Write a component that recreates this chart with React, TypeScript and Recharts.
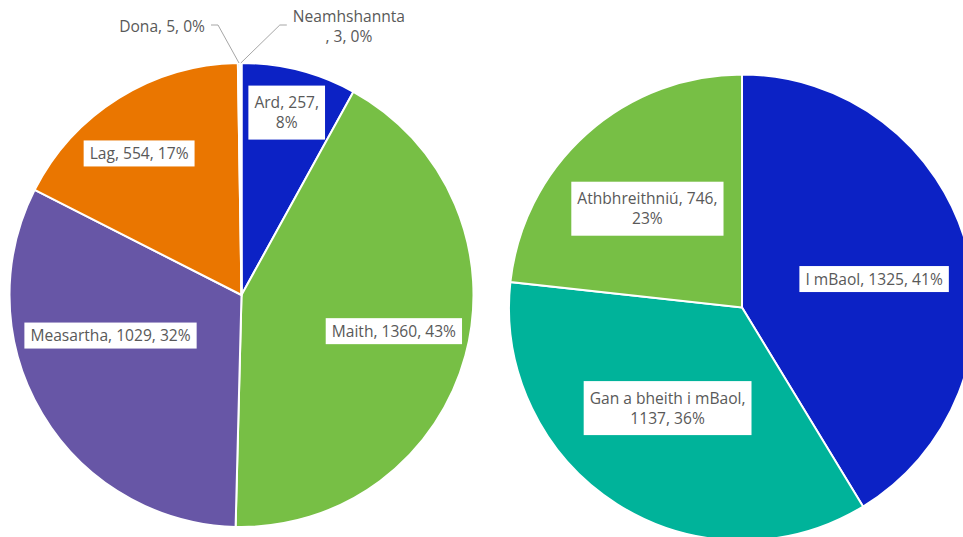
import { PieChart, Pie, Cell } from 'recharts';

const leftNames = ['Ard', 'Maith', 'Measartha', 'Lag', 'Dona', 'Neamhshannta'];
const leftValues = [257, 1360, 1029, 554, 5, 3];
const leftPct = ['8%', '43%', '32%', '17%', '0%', '0%'];

const rightNames = ['I mBaol', 'Gan a bheith i mBaol', 'Athbhreithniú'];
const rightValues = [1325, 1137, 746];
const rightPct = ['41%', '36%', '23%'];

const LEFT_COLORS = ['#0C22C5', '#77BF45', '#6756A6', '#EA7600', '#A5A5A5', '#4472C4'];
const RIGHT_COLORS = ['#0C22C5', '#00B39A', '#77BF45'];

// where each label sits: r = share of radius, da = degrees clockwise from slice middle,
// brk = parts on first line, out = leader elbow offset from slice edge, lead = comma starts line 2
type Place = { r?: number; da?: number; brk?: number; out?: [number, number]; lead?: boolean };
const LEFT_PLACE: Place[] = [
  { r: 0.81, da: -0.5, brk: 2 },
  { r: 0.675, da: -1.8 },
  { r: 0.591, da: 13.6 },
  { r: 0.753, da: -3.9 },
  { out: [-21, -38] },
  { out: [39, -38], brk: 1, lead: true },
];
const RIGHT_PLACE: Place[] = [
  { r: 0.58, da: 3.5 },
  { r: 0.537, da: 4, brk: 1 },
  { r: 0.587, da: -1.9, brk: 2 },
];

const leftData = leftNames.map((name, i) => ({ name, value: leftValues[i] }));
const rightData = rightNames.map((name, i) => ({ name, value: rightValues[i] }));

const RAD = Math.PI / 180;
const FONT_FAMILY = '"Open Sans", sans-serif';
const FONT_SIZE = 15.6;
const TEXT = '#595959';

let ctx: CanvasRenderingContext2D | null = null;
const textW = (s: string) => {
  if (!ctx) ctx = document.createElement('canvas').getContext('2d');
  if (!ctx) return s.length * 8;
  ctx.font = `${FONT_SIZE}px ${FONT_FAMILY}`;
  return ctx.measureText(s).width;
};

const makeLabel = (names: string[], values: number[], pct: string[], place: Place[]) => (p: any) => {
  const { cx, cy, midAngle, outerRadius, index } = p;
  const pl = place[index];
  const parts = [names[index], String(values[index]), pct[index]];
  let lines: string[];
  if (pl.brk) {
    lines = [
      parts.slice(0, pl.brk).join(', ') + (pl.lead ? '' : ','),
      (pl.lead ? ', ' : '') + parts.slice(pl.brk).join(', '),
    ];
  } else {
    lines = [parts.join(', ')];
  }
  const lh = 20;
  const w = Math.max(...lines.map(textW));
  const h = lines.length * lh;

  if (pl.out) {
    const ox = cx + outerRadius * Math.cos(-midAngle * RAD);
    const oy = cy + outerRadius * Math.sin(-midAngle * RAD);
    const ex = ox + pl.out[0];
    const ey = oy + pl.out[1];
    const dir = Math.sign(pl.out[0]);
    const hx = ex + dir * 7;
    const tx = hx + dir * (6 + w / 2);
    const ty = ey + 2 - h / 2;
    return (
      <g key={`l-${index}`}>
        <polyline points={`${ox},${oy} ${ex},${ey} ${hx},${ey}`} fill="none" stroke="#A6A6A6" strokeWidth={1} />
        <text textAnchor="middle" fill={TEXT} fontFamily={FONT_FAMILY} fontSize={FONT_SIZE}>
          {lines.map((l, i) => (
            <tspan key={i} x={tx} y={ty + lh * i + lh / 2} dy="0.35em">{l}</tspan>
          ))}
        </text>
      </g>
    );
  }

  const a = (midAngle - (pl.da || 0)) * RAD;
  const rr = outerRadius * (pl.r || 0.6);
  const x = cx + rr * Math.cos(-a);
  const y = cy + rr * Math.sin(-a);
  const pad = lines.length > 1 ? 7 : 3;
  return (
    <g key={`l-${index}`}>
      <rect x={x - w / 2 - 6} y={y - h / 2 - pad} width={w + 12} height={h + pad * 2} fill="#fff" />
      <text textAnchor="middle" fill={TEXT} fontFamily={FONT_FAMILY} fontSize={FONT_SIZE}>
        {lines.map((l, i) => (
          <tspan key={i} x={x} y={y - h / 2 + lh * i + lh / 2} dy="0.35em">{l}</tspan>
        ))}
      </text>
    </g>
  );
};

export default function App() {
  return (
    <div style={{ position: 'absolute', left: 0, top: 0, width: 963, height: 537, background: '#fff' }}>
      <PieChart width={963} height={537} margin={{ top: 0, right: 0, bottom: 0, left: 0 }}>
        <Pie
          data={leftData}
          dataKey="value"
          nameKey="name"
          cx={241.5}
          cy={295}
          outerRadius={232}
          startAngle={90}
          endAngle={-270}
          stroke="#fff"
          strokeWidth={2}
          labelLine={false}
          label={makeLabel(leftNames, leftValues, leftPct, LEFT_PLACE)}
          isAnimationActive={false}
        >
          {leftData.map((d, i) => (
            <Cell key={d.name} fill={LEFT_COLORS[i]} />
          ))}
        </Pie>
        <Pie
          data={rightData}
          dataKey="value"
          nameKey="name"
          cx={742}
          cy={307.5}
          outerRadius={233}
          startAngle={90}
          endAngle={-270}
          stroke="#fff"
          strokeWidth={2}
          labelLine={false}
          label={makeLabel(rightNames, rightValues, rightPct, RIGHT_PLACE)}
          isAnimationActive={false}
        >
          {rightData.map((d, i) => (
            <Cell key={d.name} fill={RIGHT_COLORS[i]} />
          ))}
        </Pie>
      </PieChart>
    </div>
  );
}
